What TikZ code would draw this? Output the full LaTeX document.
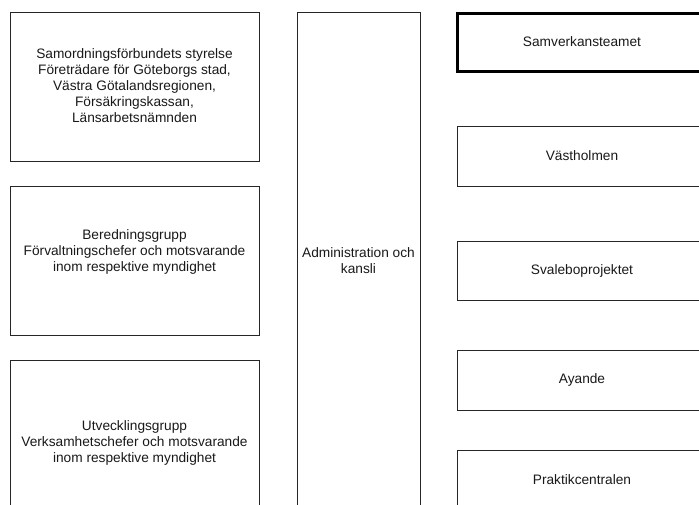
\documentclass[tikz,border=0pt]{standalone}
\usepackage{fontspec}
\setmainfont{Liberation Sans}
\begin{document}
\begin{tikzpicture}[x=1pt,y=-1pt,
  box/.style={draw=black!85,line width=0.8pt,inner sep=0pt,fill=white},
  thickbox/.style={draw=black,line width=3pt,inner sep=0pt,fill=white},
  lbl/.style={align=center,inner sep=0pt,font=\fontsize{13.7}{16}\selectfont,text=black!90}]
\useasboundingbox (0,0) rectangle (699,504);
\clip (0,0) rectangle (699,504);
\fill[white] (0,0) rectangle (699,504);
% left column
\node[box,minimum width=249,minimum height=149] (styr) at (134.5,86.5) {};
\node[lbl] (styrt) at (134.5,85.5) {Samordningsförbundets styrelse\\Företrädare för Göteborgs stad,\\Västra Götalandsregionen,\\Försäkringskassan,\\Länsarbetsnämnden};
\node[box,minimum width=249,minimum height=149] (bered) at (134.5,260.5) {};
\node[lbl] (beredt) at (134.5,251.7) {Beredningsgrupp\\Förvaltningschefer och motsvarande\\inom respektive myndighet};
\node[box,minimum width=249,minimum height=150] (utv) at (134.5,435) {};
\node[lbl] (utvt) at (134.5,443) {Utvecklingsgrupp\\Verksamhetschefer och motsvarande\\inom respektive myndighet};
% middle column
\node[box,minimum width=123,minimum height=503] (adm) at (358.5,263.5) {};
\node[lbl] (admt) at (358.5,261) {Administration och\\kansli};
% right column
\node[thickbox,minimum width=250,minimum height=58,lbl] (samv) at (582,42) {Samverkansteamet};
\node[box,minimum width=250,minimum height=60,lbl] (vast) at (582,156) {Västholmen};
\node[box,minimum width=250,minimum height=59,lbl] (sval) at (582,270.5) {Svaleboprojektet};
\node[box,minimum width=250,minimum height=60,lbl] (ayan) at (582,380) {Ayande};
\node[box,minimum width=250,minimum height=60,lbl] (prak) at (582,480) {Praktikcentralen};
\end{tikzpicture}
\end{document}
